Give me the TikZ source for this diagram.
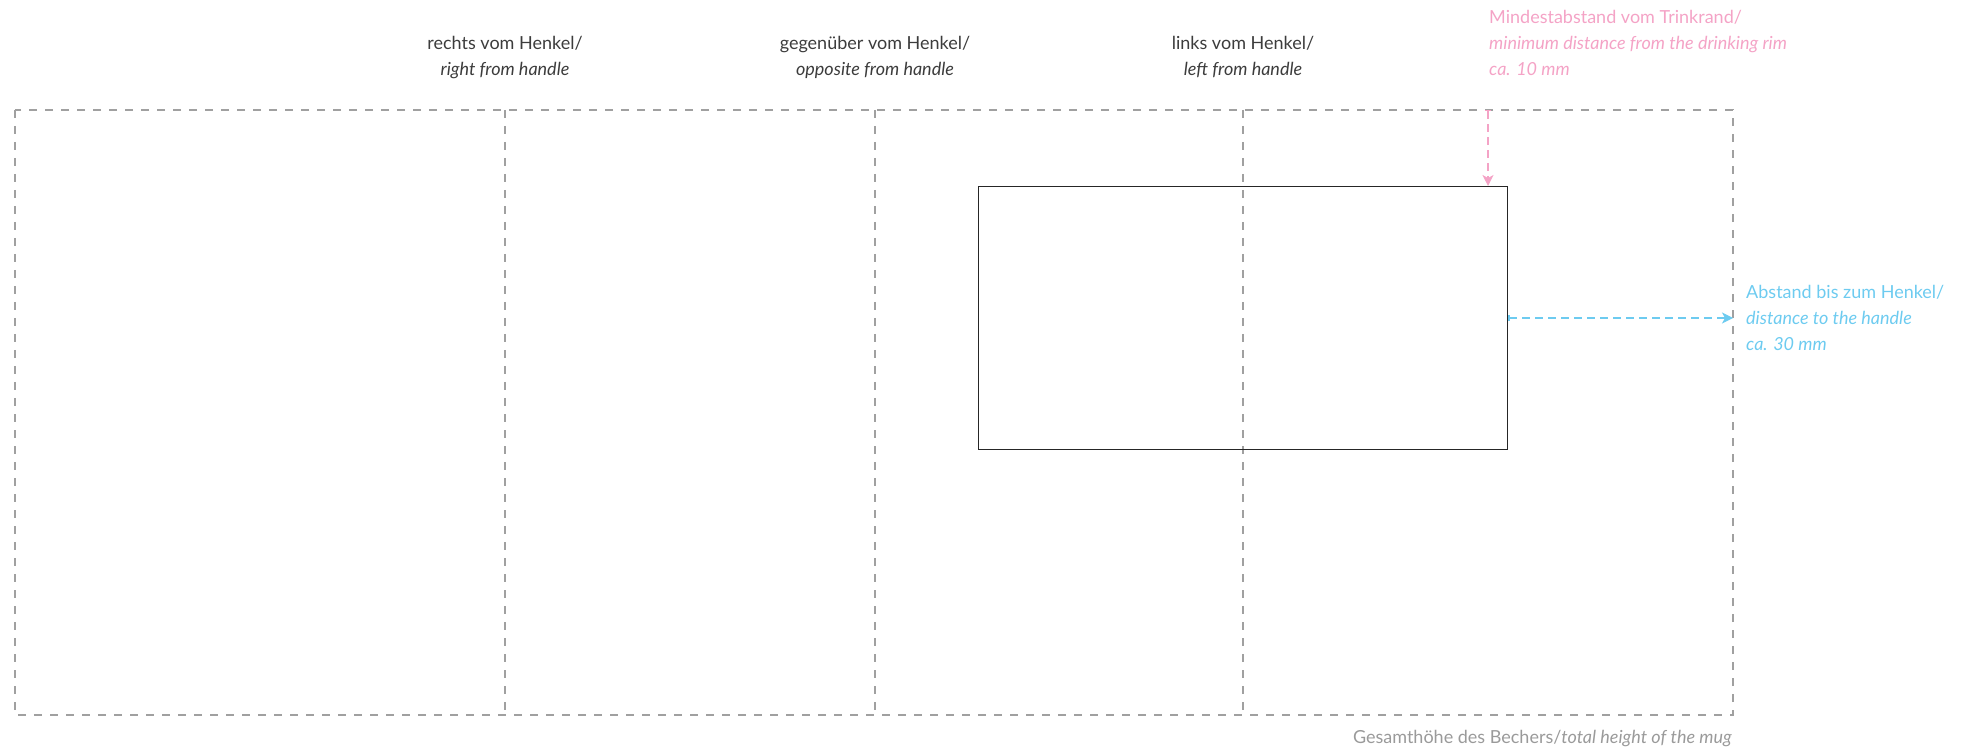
\documentclass[tikz,border=0pt]{standalone}
\usepackage{fontspec}
\setmainfont{Lato}
\usetikzlibrary{arrows.meta}
\definecolor{guide}{HTML}{A0A0A0}
\definecolor{labelgray}{HTML}{3C3C3C}
\definecolor{notegray}{HTML}{9A9A9A}
\definecolor{rimpink}{HTML}{F4A3C6}
\definecolor{handleblue}{HTML}{6DCBF0}
\begin{document}
\begin{tikzpicture}[x=1pt,y=-1pt,
  guideline/.style={draw=guide,line width=1.4pt,dash pattern=on 8pt off 8pt},
  txt/.style={inner sep=0pt,font=\fontsize{18}{24}\selectfont},
  toplabel/.style={txt,text=labelgray,anchor=base},
  pinktxt/.style={txt,text=rimpink,anchor=base west},
  bluetxt/.style={txt,text=handleblue,anchor=base west},
  dimpink/.style={draw=rimpink,line width=1.4pt,dash pattern=on 8pt off 5pt,{Bar[width=6pt]}-{Stealth[length=11pt,width=11pt,inset=3pt]}},
  dimblue/.style={draw=handleblue,line width=1.4pt,dash pattern=on 8pt off 5pt,{Bar[width=6pt]}-{Stealth[length=11pt,width=11pt,inset=3pt]}}
]
\useasboundingbox (0,0) rectangle (1966,751);
% outer frame
\coordinate (tl) at (15,110);
\coordinate (br) at (1733,715);
\draw[guideline] (tl) rectangle (br);
\coordinate (v1t) at (505,110); \coordinate (v1b) at (505,715);
\coordinate (v2t) at (875,110); \coordinate (v2b) at (875,715);
\coordinate (v3t) at (1243,110); \coordinate (v3b) at (1243,715);
\draw[guideline] (v1t) -- (v1b);
\draw[guideline] (v2t) -- (v2b);
\draw[guideline] (v3t) -- (v3b);
% print area
\node[draw=black!85,line width=1.3pt,minimum width=529pt,minimum height=263pt,inner sep=0pt,anchor=north west] (area) at (978,186) {};
% top labels
\node[toplabel] (r1) at (505,50) {rechts vom Henkel/};
\node[toplabel] (r2) at (505,76) {\itshape right from handle};
\node[toplabel] (g1) at (875,50) {gegenüber vom Henkel/};
\node[toplabel] (g2) at (875,76) {\itshape opposite from handle};
\node[toplabel] (k1) at (1243,50) {links vom Henkel/};
\node[toplabel] (k2) at (1243,76) {\itshape left from handle};
% pink rim distance
\node[pinktxt] (p1) at (1489,24) {Mindestabstand vom Trinkrand/};
\node[pinktxt] (p2) at (1489,50) {\itshape minimum distance from the drinking rim};
\node[pinktxt] (p3) at (1489,76) {\itshape ca. 10 mm};
\coordinate (pinktop) at (1488,110);
\draw[dimpink] (pinktop) -- (area.north -| pinktop);
% blue handle distance
\node[bluetxt] (b1) at (1746,299) {Abstand bis zum Henkel/};
\node[bluetxt] (b2) at (1746,325) {\itshape distance to the handle};
\node[bluetxt] (b3) at (1746,351) {\itshape ca. 30 mm};
\coordinate (blueend) at (1733,318);
\draw[dimblue] (area.east |- blueend) -- (blueend);
% bottom note
\node[txt,text=notegray,anchor=base east] (total) at (1732,743) {Gesamthöhe des Bechers/\textit{total height of the mug}};
\end{tikzpicture}
\end{document}
